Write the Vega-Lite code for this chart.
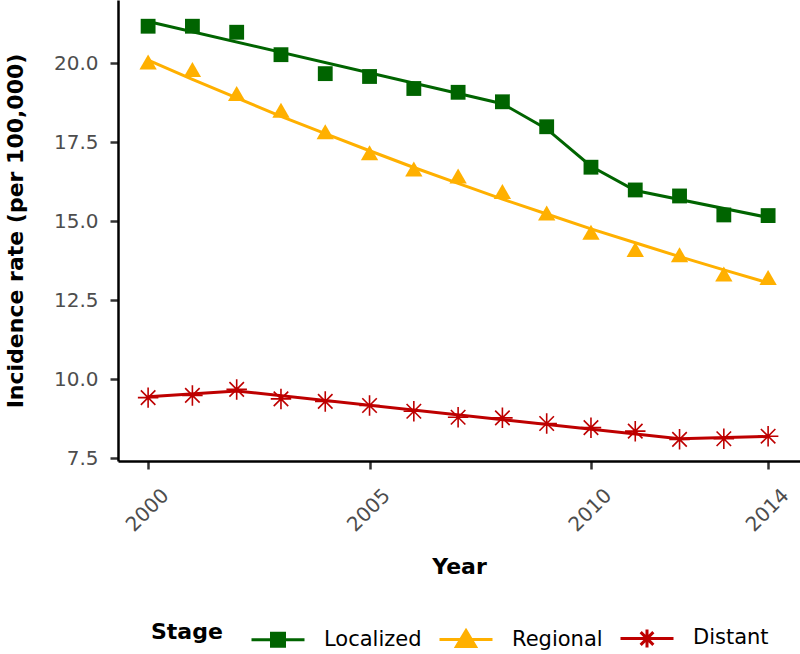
{
  "$schema": "https://vega.github.io/schema/vega-lite/v6.json",
  "width": 682,
  "height": 461,
  "autosize": {"type": "none"},
  "padding": {"left": 118, "top": 0, "right": 0, "bottom": 193},
  "background": "white",
  "config": {
    "view": {"stroke": null},
    "font": "DejaVu Sans",
    "axis": {
      "domainColor": "black",
      "domainWidth": 2.5,
      "tickColor": "#333333",
      "tickWidth": 2.5,
      "tickSize": 8,
      "labelColor": "#4D4D4D",
      "labelFontSize": 20,
      "labelFont": "DejaVu Sans",
      "titleFont": "DejaVu Sans",
      "titleFontWeight": "bold",
      "titleFontSize": 22,
      "titleColor": "black",
      "grid": false
    }
  },
  "datasets": {
    "obs": [
      {"Year": 2000, "Rate": 21.17, "Stage": "Localized"},
      {"Year": 2001, "Rate": 21.17, "Stage": "Localized"},
      {"Year": 2002, "Rate": 20.98, "Stage": "Localized"},
      {"Year": 2003, "Rate": 20.27, "Stage": "Localized"},
      {"Year": 2004, "Rate": 19.67, "Stage": "Localized"},
      {"Year": 2005, "Rate": 19.58, "Stage": "Localized"},
      {"Year": 2006, "Rate": 19.2, "Stage": "Localized"},
      {"Year": 2007, "Rate": 19.08, "Stage": "Localized"},
      {"Year": 2008, "Rate": 18.78, "Stage": "Localized"},
      {"Year": 2009, "Rate": 17.99, "Stage": "Localized"},
      {"Year": 2010, "Rate": 16.71, "Stage": "Localized"},
      {"Year": 2011, "Rate": 15.99, "Stage": "Localized"},
      {"Year": 2012, "Rate": 15.8, "Stage": "Localized"},
      {"Year": 2013, "Rate": 15.2, "Stage": "Localized"},
      {"Year": 2014, "Rate": 15.18, "Stage": "Localized"},
      {"Year": 2000, "Rate": 20.04, "Stage": "Regional"},
      {"Year": 2001, "Rate": 19.8, "Stage": "Regional"},
      {"Year": 2002, "Rate": 19.04, "Stage": "Regional"},
      {"Year": 2003, "Rate": 18.51, "Stage": "Regional"},
      {"Year": 2004, "Rate": 17.83, "Stage": "Regional"},
      {"Year": 2005, "Rate": 17.17, "Stage": "Regional"},
      {"Year": 2006, "Rate": 16.65, "Stage": "Regional"},
      {"Year": 2007, "Rate": 16.43, "Stage": "Regional"},
      {"Year": 2008, "Rate": 15.94, "Stage": "Regional"},
      {"Year": 2009, "Rate": 15.26, "Stage": "Regional"},
      {"Year": 2010, "Rate": 14.65, "Stage": "Regional"},
      {"Year": 2011, "Rate": 14.11, "Stage": "Regional"},
      {"Year": 2012, "Rate": 13.94, "Stage": "Regional"},
      {"Year": 2013, "Rate": 13.33, "Stage": "Regional"},
      {"Year": 2014, "Rate": 13.22, "Stage": "Regional"},
      {"Year": 2000, "Rate": 9.42, "Stage": "Distant"},
      {"Year": 2001, "Rate": 9.49, "Stage": "Distant"},
      {"Year": 2002, "Rate": 9.68, "Stage": "Distant"},
      {"Year": 2003, "Rate": 9.38, "Stage": "Distant"},
      {"Year": 2004, "Rate": 9.3, "Stage": "Distant"},
      {"Year": 2005, "Rate": 9.17, "Stage": "Distant"},
      {"Year": 2006, "Rate": 8.99, "Stage": "Distant"},
      {"Year": 2007, "Rate": 8.8, "Stage": "Distant"},
      {"Year": 2008, "Rate": 8.78, "Stage": "Distant"},
      {"Year": 2009, "Rate": 8.6, "Stage": "Distant"},
      {"Year": 2010, "Rate": 8.47, "Stage": "Distant"},
      {"Year": 2011, "Rate": 8.36, "Stage": "Distant"},
      {"Year": 2012, "Rate": 8.1, "Stage": "Distant"},
      {"Year": 2013, "Rate": 8.12, "Stage": "Distant"},
      {"Year": 2014, "Rate": 8.2, "Stage": "Distant"}
    ],
    "fit": [
      {"Year": 2000, "Rate": 21.32, "Stage": "Localized"},
      {"Year": 2008, "Rate": 18.72, "Stage": "Localized"},
      {"Year": 2009, "Rate": 17.92, "Stage": "Localized"},
      {"Year": 2010, "Rate": 16.74, "Stage": "Localized"},
      {"Year": 2011, "Rate": 15.97, "Stage": "Localized"},
      {"Year": 2014, "Rate": 15.12, "Stage": "Localized"},
      {"Year": 2000, "Rate": 20.1, "Stage": "Regional"},
      {"Year": 2001, "Rate": 19.49, "Stage": "Regional"},
      {"Year": 2002, "Rate": 18.9, "Stage": "Regional"},
      {"Year": 2003, "Rate": 18.32, "Stage": "Regional"},
      {"Year": 2004, "Rate": 17.77, "Stage": "Regional"},
      {"Year": 2005, "Rate": 17.23, "Stage": "Regional"},
      {"Year": 2006, "Rate": 16.7, "Stage": "Regional"},
      {"Year": 2007, "Rate": 16.2, "Stage": "Regional"},
      {"Year": 2008, "Rate": 15.7, "Stage": "Regional"},
      {"Year": 2009, "Rate": 15.23, "Stage": "Regional"},
      {"Year": 2010, "Rate": 14.76, "Stage": "Regional"},
      {"Year": 2011, "Rate": 14.32, "Stage": "Regional"},
      {"Year": 2012, "Rate": 13.88, "Stage": "Regional"},
      {"Year": 2013, "Rate": 13.46, "Stage": "Regional"},
      {"Year": 2014, "Rate": 13.05, "Stage": "Regional"},
      {"Year": 2000, "Rate": 9.45, "Stage": "Distant"},
      {"Year": 2002, "Rate": 9.63, "Stage": "Distant"},
      {"Year": 2012, "Rate": 8.12, "Stage": "Distant"},
      {"Year": 2014, "Rate": 8.19, "Stage": "Distant"}
    ]
  },
  "encoding": {
    "x": {
      "field": "Year",
      "type": "quantitative",
      "scale": {"domain": [1999.32, 2014.72], "nice": false, "zero": false},
      "axis": {"values": [2000, 2005, 2010, 2014], "format": "d", "labelAngle": -45, "labelAlign": "right", "labelBaseline": "top", "labelFontSize": 20, "labelOffset": 10, "labelPadding": 16, "title": "Year", "titleY": 105, "titleBaseline": "middle"}
    },
    "y": {
      "field": "Rate",
      "type": "quantitative",
      "scale": {"domain": [7.415, 22.0], "nice": false, "zero": false},
      "axis": {"values": [7.5, 10, 12.5, 15, 17.5, 20], "format": ".1f", "labelFontSize": 20, "title": "Incidence rate (per 100,000)", "labelPadding": 12, "titlePadding": 26}
    }
  },
  "layer": [
    {
      "data": {"name": "fit"},
      "mark": {"type": "line", "strokeWidth": 3},
      "encoding": {
        "color": {
          "field": "Stage",
          "type": "nominal",
          "scale": {"domain": ["Localized", "Regional", "Distant"], "range": ["#006400", "#FFB000", "#BE0000"]},
          "legend": {
            "orient": "none",
            "legendX": 33,
            "legendY": 610,
            "padding": 0,
            "direction": "horizontal",
            "title": "Stage",
            "titleOrient": "left",
            "titleAnchor": "middle",
            "titleBaseline": "middle",
            "titleFontSize": 22,
            "titleFontWeight": "bold",
            "titleColor": "black",
            "titleFont": "DejaVu Sans",
            "titlePadding": 27,
            "labelFontSize": 21,
            "labelFont": "DejaVu Sans",
            "labelColor": "black",
            "labelOffset": 18,
            "columnPadding": 11,
            "symbolSize": 2809,
            "symbolStrokeWidth": 3,
            "symbolOpacity": 1
          }
        }
      }
    },
    {
      "data": {"name": "obs"},
      "transform": [{"filter": "datum.Stage === 'Localized'"}],
      "mark": {"type": "point", "shape": "square", "filled": true, "color": "#006400", "size": 220, "opacity": 1}
    },
    {
      "data": {"name": "obs"},
      "transform": [{"filter": "datum.Stage === 'Regional'"}],
      "mark": {"type": "point", "shape": "triangle-up", "filled": true, "color": "#FFB000", "size": 300, "opacity": 1}
    },
    {
      "data": {"name": "obs"},
      "transform": [{"filter": "datum.Stage === 'Distant'"}],
      "mark": {"type": "point", "shape": "M-1,0H1M0,-1V1M-0.707,-0.707L0.707,0.707M-0.707,0.707L0.707,-0.707", "filled": false, "stroke": "#BE0000", "strokeWidth": 1.6, "size": 420, "opacity": 1}
    },
    {
      "data": {"name": "obs"},
      "transform": [{"filter": "datum.Year < 0"}],
      "mark": {"type": "point", "filled": true, "strokeWidth": 3, "size": 2809, "opacity": 1},
      "encoding": {
        "color": {
          "field": "Stage",
          "type": "nominal",
          "scale": {"domain": ["Localized", "Regional", "Distant"], "range": ["#006400", "#FFB000", "#BE0000"]}
        },
        "shape": {
          "field": "Stage",
          "type": "nominal",
          "scale": {"domain": ["Localized", "Regional", "Distant"], "range": ["M-1,0H1M-0.245,-0.245H0.245V0.245H-0.245Z", "M-1,0H1M0,-0.34L0.36,0.26H-0.36Z", "M-1,0H1M0,-0.34V0.34M-0.24,-0.24L0.24,0.24M-0.24,0.24L0.24,-0.24"]},
          "legend": null
        }
      }
    }
  ]
}
